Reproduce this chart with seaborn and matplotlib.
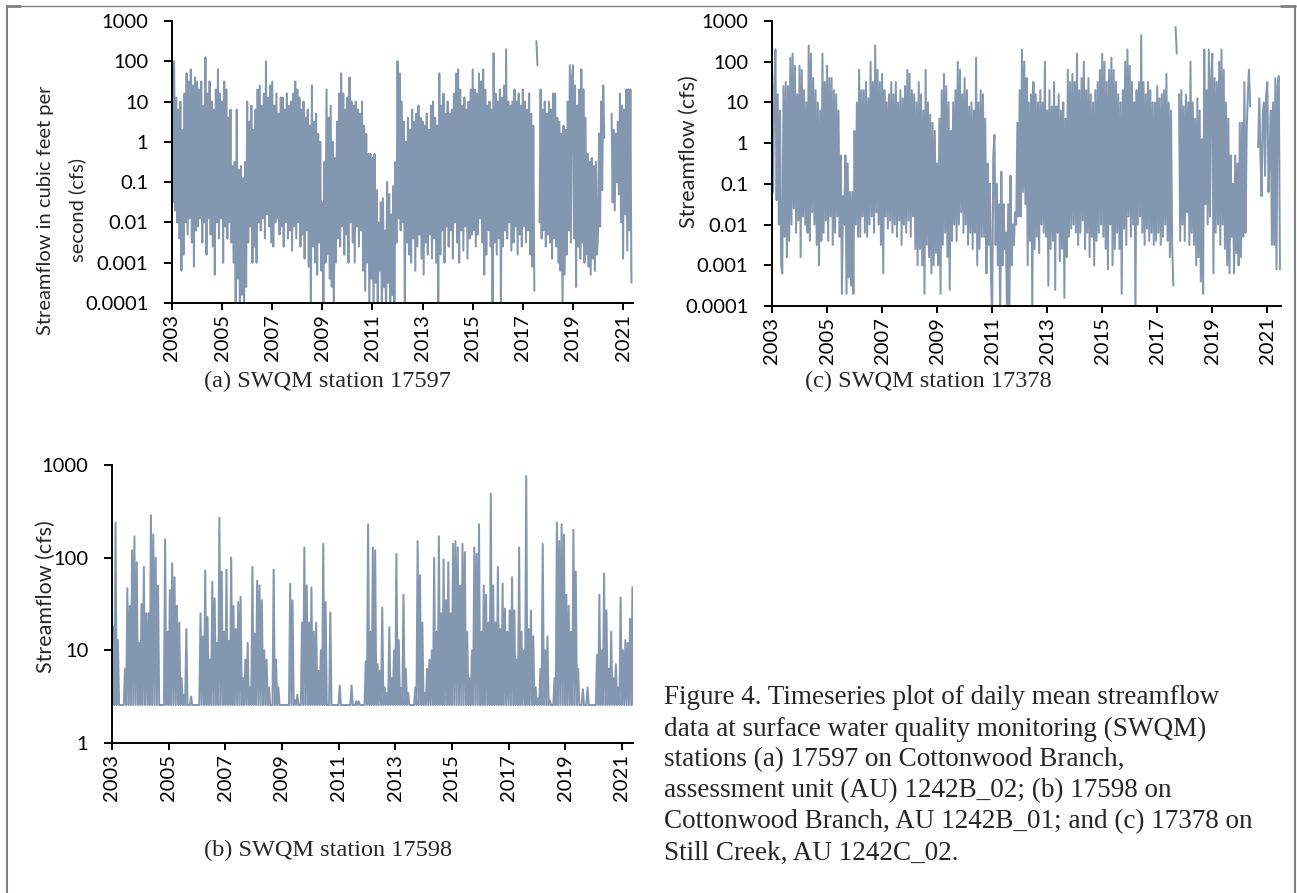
import numpy as np
import pandas as pd
import matplotlib
matplotlib.use("Agg")
import matplotlib.pyplot as plt
from matplotlib.lines import Line2D
from matplotlib.ticker import NullLocator
import seaborn as sns

nan = np.nan

# daily mean streamflow as log10(cfs), 24 readings per year from Jan 2003
flow_17597 = [
    [0.7, -1.5, 2.0, -1.7, 1.1, -2.0, 0.8, -2.4, 1.0, -3.2, 0.3, -2.8, 1.2, -2.0, 1.7, -2.3, 1.5, -1.9, 1.8, -2.5, 1.4, -3.1, 1.6, -2.2],
    [1.5, -2.1, 1.3, -1.9, 1.5, -2.5, 0.9, -2.0, 2.1, -2.8, 1.2, -1.9, 1.5, -2.3, 1.0, -2.6, 0.8, -3.3, 1.3, -2.0, 1.8, -2.4, 1.2, -1.9],
    [1.0, -3.0, 1.5, -2.1, 1.3, -2.4, 0.6, -2.0, 0.8, -2.5, -0.6, -3.0, -0.5, -4.3, 0.8, -3.4, -0.7, -4.3, -0.6, -3.8, -0.9, -4.3, -0.5, -3.6],
    [1.0, -2.5, 0.5, -2.1, 0.9, -3.0, 0.3, -2.6, 0.8, -3.0, 1.3, -2.0, 1.4, -2.2, 0.9, -1.9, 1.2, -2.4, 2.0, -1.8, 1.1, -2.1, 1.4, -2.5],
    [1.5, -2.6, 0.9, -2.0, 1.2, -1.9, 0.7, -2.3, 1.1, -2.1, 1.1, -2.6, 0.8, -2.0, 1.2, -2.4, 0.9, -2.2, 1.0, -2.7, 1.2, -2.1, 1.5, -2.4],
    [1.3, -2.0, 1.1, -2.6, 0.8, -2.3, 1.0, -2.9, 0.6, -2.2, 0.8, -3.1, 0.4, -4.3, 1.4, -2.6, 0.5, -3.0, 0.7, -3.3, 0.2, -2.5, 0.0, -3.2],
    [-1.5, -4.3, -0.5, -3.0, 1.3, -2.8, 0.6, -3.4, 0.9, -3.6, 0.0, -4.3, -0.4, -3.0, 0.5, -2.4, 1.2, -2.6, 1.7, -2.1, 1.2, -2.8, 0.8, -2.3],
    [1.1, -3.0, 1.6, -2.0, 1.0, -2.5, 0.9, -3.0, 1.0, -2.1, 0.8, -2.6, 0.7, -2.2, 1.0, -3.2, 0.4, -3.7, 0.2, -3.0, -0.3, -4.3, -0.3, -3.4],
    [-0.4, -4.3, -0.3, -3.5, -1.2, -4.3, -2.0, -3.2, -1.5, -4.3, -1.4, -3.6, -2.2, -4.3, -1.0, -3.5, -1.3, -4.3, -1.8, -3.8, -1.1, -4.3, -0.5, -2.5],
    [2.0, -1.9, 1.7, -2.2, 1.0, -2.0, 0.5, -4.3, 0.0, -2.5, 0.6, -2.8, 0.3, -3.0, 0.8, -2.4, 0.5, -3.2, 0.7, -2.6, 0.9, -2.3, 0.6, -2.9],
    [0.5, -3.3, 0.4, -2.5, 0.7, -2.8, 0.3, -2.3, 0.9, -2.9, 1.0, -2.4, 0.6, -3.0, 0.4, -4.3, 1.7, -2.8, 0.9, -2.2, 1.2, -3.0, 0.7, -2.1],
    [1.0, -2.6, 0.7, -2.2, 0.8, -2.9, 1.2, -2.0, 1.7, -2.5, 1.8, -3.0, 1.3, -2.2, 0.9, -2.7, 1.1, -2.1, 0.8, -2.9, 1.0, -2.4, 1.3, -2.3],
    [1.8, -2.2, 1.3, -2.6, 1.2, -2.3, 1.7, -1.9, 1.5, -2.5, 1.8, -3.3, 1.3, -2.8, 0.9, -2.2, 1.0, -2.6, 0.8, -4.3, 2.2, -2.5, 1.2, -2.8],
    [1.0, -2.4, 1.3, -4.3, 1.1, -2.6, 1.4, -2.2, 2.3, -2.4, 1.0, -2.0, 0.9, -2.7, 1.0, -2.5, 1.3, -2.1, 1.0, -2.8, 1.2, -2.3, 0.9, -2.6],
    [1.3, -2.1, 1.0, -2.5, 0.8, -2.2, 1.2, -2.8, 0.7, -3.1, 0.4, -3.7, nan, 2.5, 1.9, nan, -2.0, 1.3, -2.4, 0.8, -2.2, 1.0, -2.6, 0.7],
    [-2.3, 1.0, -2.5, 0.8, -2.9, 1.2, -2.4, 1.2, -2.6, 0.6, -3.0, 0.5, -3.2, 0.2, -4.3, 0.4, -3.3, 0.3, -2.8, 1.0, -2.2, 1.9, -2.5, 1.6],
    [1.9, -2.4, 1.4, -3.6, 0.9, -2.6, 1.3, -2.9, 1.8, -2.5, 1.3, -3.0, 0.6, -2.8, -0.3, -3.1, -0.5, -3.3, -0.4, -2.9, -0.6, -3.2, -0.5, -2.8],
    [-2.3, 0.2, -2.1, 1.0, -1.2, 1.4, 0.1, nan, nan, nan, nan, nan, nan, 0.7, -1.5, 0.3, -1.7, 0.2, -1.0, 0.5, -1.3, 1.2, -2.0, 0.9],
    [-2.9, 0.8, -1.8, 1.3, -2.7, 1.3, -2.2, 1.3, -3.5],
]

flow_17378 = [
    [1.0, -1.2, 1.4, 2.3, -1.4, 1.2, -2.0, 0.8, -3.0, -3.2, 1.4, -2.3, 1.5, -2.8, 1.4, -2.4, 2.1, -2.0, 2.2, -1.6, 1.9, -2.2, 1.2, -1.9],
    [1.9, -2.8, 1.8, -1.8, 1.3, -2.0, 1.0, -2.2, 2.4, -2.4, 2.2, -1.7, 1.6, -2.0, 1.3, -2.5, 1.0, -3.0, 0.8, -2.4, 2.2, -2.2, 1.5, -1.9],
    [1.9, -2.4, 1.6, -1.8, 1.6, -2.5, 1.3, -2.2, 1.2, -1.8, 0.8, -2.3, -0.3, -3.7, -1.3, -2.0, -0.3, -3.7, -0.5, -3.3, -1.2, -3.5, -1.2, -3.7],
    [0.3, -2.0, 1.0, -2.3, 1.8, -2.3, 1.3, -1.8, 1.3, -2.2, 1.5, -2.3, 1.1, -2.0, 2.0, -1.8, 1.5, -2.2, 2.4, -1.7, 1.8, -2.0, 1.5, -2.5],
    [1.7, -3.2, 1.3, -1.8, 1.0, -2.1, 1.2, -1.9, 1.5, -2.2, 1.2, -2.0, 1.5, -2.3, 1.0, -1.9, 1.3, -2.5, 1.1, -2.0, 1.4, -2.2, 1.8, -1.9],
    [1.7, -2.3, 1.3, -1.8, 1.2, -2.6, 1.0, -3.0, 1.5, -2.6, 1.2, -3.0, 0.8, -3.7, 1.8, -2.5, 1.0, -2.8, 0.7, -3.2, 0.5, -3.0, 0.3, -2.7],
    [-0.5, -3.0, 0.6, -3.7, 1.3, -2.5, 1.7, -2.2, 1.4, -2.8, 1.0, -3.6, 0.3, -2.4, 1.0, -2.0, 1.3, -2.4, 2.0, -2.0, 1.8, -1.7, 1.2, -2.2],
    [1.6, -2.0, 1.3, -2.5, 0.9, -2.2, 1.0, -2.6, 0.8, -2.2, 2.1, -3.0, 1.0, -2.6, 1.3, -2.3, 1.2, -2.3, 0.6, -3.2, -0.5, -2.5, -1.0, -3.3],
    [-4.3, -0.3, 0.2, -2.5, -1.0, -3.0, -1.5, -4.3, -0.7, -3.0, -1.5, -2.6, -2.2, -4.3, -1.5, -4.3, -0.8, -3.0, -2.0, -2.5, -1.7, -2.0, 0.5, -1.8],
    [1.3, -1.8, 2.3, -1.2, 2.0, -1.5, 1.6, -3.0, 1.0, -2.4, 1.2, -4.3, 1.5, -2.6, 1.2, -2.3, 1.0, -2.7, 1.3, -2.0, 1.0, -2.2, 2.0, -2.3],
    [0.8, -3.5, 1.3, -2.6, 0.9, -2.4, 1.5, -3.6, 0.9, -2.2, 1.2, -2.9, 0.8, -2.6, 1.0, -3.8, 0.6, -2.8, 1.8, -2.3, 1.5, -2.1, 1.7, -2.0],
    [1.5, -2.2, 2.2, -2.5, 1.3, -2.2, 1.6, -1.9, 2.0, -2.6, 1.3, -2.2, 1.6, -2.8, 1.2, -2.3, 1.0, -3.0, 1.3, -2.4, 1.5, -2.2, 1.8, -2.0],
    [2.2, -2.3, 2.0, -2.6, 1.5, -3.1, 1.8, -2.0, 2.1, -3.0, 1.8, -2.6, 1.5, -2.2, 1.2, -2.6, 1.0, -3.7, 1.3, -2.1, 2.0, -2.5, 2.3, -1.8],
    [1.9, -2.3, 1.5, -2.0, 1.0, -4.3, 1.3, -2.0, 1.5, -1.8, 2.65, -2.2, 1.5, -2.5, 1.2, -2.1, 1.5, -2.4, 1.3, -2.2, 1.0, -2.5, 1.0, -2.4],
    [1.4, -2.2, 1.1, -2.5, 1.2, -2.3, 1.3, -2.0, 1.7, -2.4, 1.0, -2.8, 0.8, -2.5, -3.5, nan, 2.85, 2.2, nan, 1.2, -2.4, 1.3, -2.0, 0.9],
    [-2.4, 1.2, -1.7, 1.0, -2.5, 2.0, -2.2, 1.0, -2.5, 0.6, -3.0, 1.1, -2.8, 0.8, -3.4, 0.1, -3.7, 2.3, -1.5, 1.3, -2.0, 2.3, -1.8, 1.6],
    [2.2, -3.2, 1.6, -2.2, 1.5, -2.0, 2.0, -2.5, 2.3, -2.0, 1.8, -2.6, 1.0, -3.0, 0.6, -3.2, -0.3, -2.3, -1.0, -3.2, -0.3, -2.7, -0.5, -3.0],
    [0.5, -2.8, 0.5, -2.3, 1.5, -2.2, 0.3, 1.2, 1.8, 0.9, nan, nan, nan, nan, nan, nan, -0.1, 1.1, -0.3, -1.3, 0.7, 1.0, -0.8, 1.2],
    [1.5, -1.2, -0.3, 0.8, -2.5, 1.0, -2.5, 1.6, -3.1, 1.4, 1.65, -3.1],
]

# station 17598 sits on a flat base flow with storm peaks (log10 cfs, 12 peaks per year)
base_17598 = 0.41
peaks_17598 = [
    [1.26, 2.38, 1.11, 0.41, 0.41, 0.8, 1.67, 1.48, 2.08, 2.23, 1.95, 1.08],
    [1.5, 1.9, 1.4, 1.4, 2.46, 2.25, 2.0, 1.7, 0.41, 0.41, 2.2, 1.2],
    [1.65, 1.94, 1.79, 1.48, 1.3, 0.7, 0.52, 1.23, 0.41, 0.5, 0.41, 0.41],
    [0.41, 1.4, 1.15, 1.86, 1.36, 0.9, 1.74, 1.56, 1.08, 2.43, 1.85, 1.2],
    [1.87, 1.1, 2.0, 1.48, 1.23, 1.52, 1.58, 0.7, 0.9, 1.08, 0.6, 1.9],
    [1.18, 1.75, 1.7, 1.54, 1.0, 0.9, 0.6, 0.41, 1.87, 0.9, 0.6, 0.41],
    [0.41, 0.41, 0.41, 1.72, 1.54, 0.46, 0.52, 0.41, 1.3, 2.11, 1.7, 1.3],
    [1.68, 1.2, 1.3, 0.78, 1.0, 2.15, 1.52, 0.41, 1.41, 0.41, 0.41, 0.41],
    [0.62, 0.41, 0.41, 0.41, 0.41, 0.62, 0.41, 0.45, 0.45, 0.41, 0.41, 0.88],
    [2.36, 1.2, 2.11, 2.08, 0.85, 0.78, 1.46, 0.6, 0.54, 1.25, 0.7, 1.0],
    [2.04, 1.11, 0.59, 1.6, 0.8, 0.54, 0.41, 0.41, 0.6, 2.18, 1.81, 1.3],
    [0.54, 0.8, 0.9, 1.0, 2.0, 1.2, 2.23, 1.4, 1.98, 1.54, 1.95, 1.4],
    [2.15, 2.18, 2.11, 1.7, 2.15, 2.06, 1.2, 0.7, 1.0, 2.11, 2.04, 2.36],
    [1.2, 1.7, 1.6, 1.3, 2.69, 1.7, 1.3, 1.9, 1.23, 1.72, 1.45, 1.2],
    [1.43, 1.79, 1.43, 0.9, 2.11, 1.2, 1.0, 2.88, 1.23, 1.43, 1.15, 0.6],
    [0.48, 0.8, 2.15, 1.0, 1.15, 0.46, 0.41, 0.7, 2.38, 2.18, 2.36, 2.25],
    [1.6, 1.48, 1.2, 2.3, 1.85, 0.8, 0.41, 0.58, 0.41, 0.6, 0.41, 0.41],
    [0.41, 0.95, 1.6, 1.0, 1.83, 1.43, 0.8, 1.2, 0.7, 0.85, 0.6, 1.57],
    [1.0, 1.11, 1.08, 1.34, 1.68, 1.23],
]

years_shown = [2003, 2005, 2007, 2009, 2011, 2013, 2015, 2017, 2019, 2021]
ticks_wide = [1e-4, 1e-3, 1e-2, 1e-1, 1, 10, 100, 1000]
labels_wide = ["0.0001", "0.001", "0.01", "0.1", "1", "10", "100", "1000"]
ticks_b = [1, 10, 100, 1000]
labels_b = ["1", "10", "100", "1000"]

captions = ["(a) SWQM station 17597", "(c) SWQM station 17378", "(b) SWQM station 17598"]
fig_caption = [
    "Figure 4. Timeseries plot of daily mean streamflow",
    "data at surface water quality monitoring (SWQM)",
    "stations (a) 17597 on Cottonwood Branch,",
    "assessment unit (AU) 1242B_02; (b) 17598 on",
    "Cottonwood Branch, AU 1242B_01; and (c) 17378 on",
    "Still Creek, AU 1242C_02.",
]

LINE = "#8497B0"
W, H = 1297, 893

sns.set_style("ticks")
plt.rcParams["font.family"] = ["Lato", "DejaVu Sans"]


def build(vals):
    vals = np.array(vals, dtype=float)
    k = np.arange(len(vals))
    dates = pd.Timestamp("2003-01-01") + pd.to_timedelta(k * 365.25 / 24, unit="D")
    df = pd.DataFrame({"date": dates, "flow": 10.0 ** vals})
    df["seg"] = df["flow"].isna().cumsum()
    return df.dropna()


def flat(rows):
    return [v for r in rows for v in r]


def with_base(rows, base):
    out = []
    for r in rows:
        for p in r:
            out += [base, p]
    return out


def box(l, t, r, b):
    return [l / W, 1 - b / H, (r - l) / W, (b - t) / H]


fig = plt.figure(figsize=(W / 100, H / 100), dpi=100)
ax_a = fig.add_axes(box(172, 21, 633, 303))
ax_c = fig.add_axes(box(772, 21, 1281, 306))
ax_b = fig.add_axes(box(112, 465, 633, 743))

for ax, vals, ticks, labels, lo, end in [
    (ax_a, flat(flow_17597), ticks_wide, labels_wide, 1e-4, "2021-05-25"),
    (ax_c, flat(flow_17378), ticks_wide, labels_wide, 1e-4, "2021-07-01"),
    (ax_b, with_base(peaks_17598, base_17598), ticks_b, labels_b, 1, "2021-05-25"),
]:
    df = build(vals)
    sns.lineplot(data=df, x="date", y="flow", units="seg", estimator=None,
                 color=LINE, lw=1.45, ax=ax)
    ax.set_yscale("log")
    ax.set_ylim(lo, 1000)
    ax.set_yticks(ticks, labels)
    ax.yaxis.set_minor_locator(NullLocator())
    ax.set_xlim(pd.Timestamp("2003-01-01"), pd.Timestamp(end))
    ax.set_xticks([pd.Timestamp(f"{y}-01-01") for y in years_shown],
                  [str(y) for y in years_shown])
    ax.set_xlabel("")
    ax.set_ylabel("")
    sns.despine(ax=ax)
    for s in ["left", "bottom"]:
        ax.spines[s].set_color("black")
        ax.spines[s].set_linewidth(1.4)
    ax.tick_params(axis="y", length=6, width=1.4, pad=11, labelsize=14.5, colors="black")
    ax.tick_params(axis="x", length=5, width=1.4, pad=3, labelsize=14.5, colors="black",
                   labelrotation=90)

# y-axis titles
fig.text(46 / W, 1 - 210 / H, "Streamflow in cubic feet per", rotation=90,
         ha="center", va="center", fontsize=14.5)
fig.text(77 / W, 1 - 210 / H, "second (cfs)", rotation=90,
         ha="center", va="center", fontsize=14.5)
fig.text(689 / W, 1 - 152 / H, "Streamflow (cfs)", rotation=90,
         ha="center", va="center", fontsize=15.5)
fig.text(46 / W, 1 - 597 / H, "Streamflow (cfs)", rotation=90,
         ha="center", va="center", fontsize=15.5)

# panel captions
serif = ["Liberation Serif", "DejaVu Serif"]
for txt, (x, y) in zip(captions, [(328, 381), (928, 381), (328, 850)]):
    fig.text(x / W, 1 - y / H, txt, ha="center", va="center", fontsize=17.5, family=serif)

for i, line in enumerate(fig_caption):
    fig.text(664 / W, 1 - (698 + 31 * i) / H, line, ha="left", va="center",
             fontsize=19.5, family=serif)

# page frame
grey = "#808080"
fig.add_artist(Line2D([6.5 / W, 6.5 / W], [0, 1 - 6 / H], color=grey, lw=1.5))
fig.add_artist(Line2D([6.5 / W, 1294.5 / W], [1 - 6 / H, 1 - 6 / H], color=grey, lw=1.0))
fig.add_artist(Line2D([1294.5 / W, 1294.5 / W], [0, 1 - 6 / H], color=grey, lw=1.5))
fig.add_artist(Line2D([6.5 / W, 20 / W], [1 - 6 / H, 1 - 6 / H], color=grey, lw=2.0))
fig.add_artist(Line2D([1281 / W, 1294.5 / W], [1 - 6 / H, 1 - 6 / H], color=grey, lw=2.0))

fig.savefig("out.png", dpi=100)
